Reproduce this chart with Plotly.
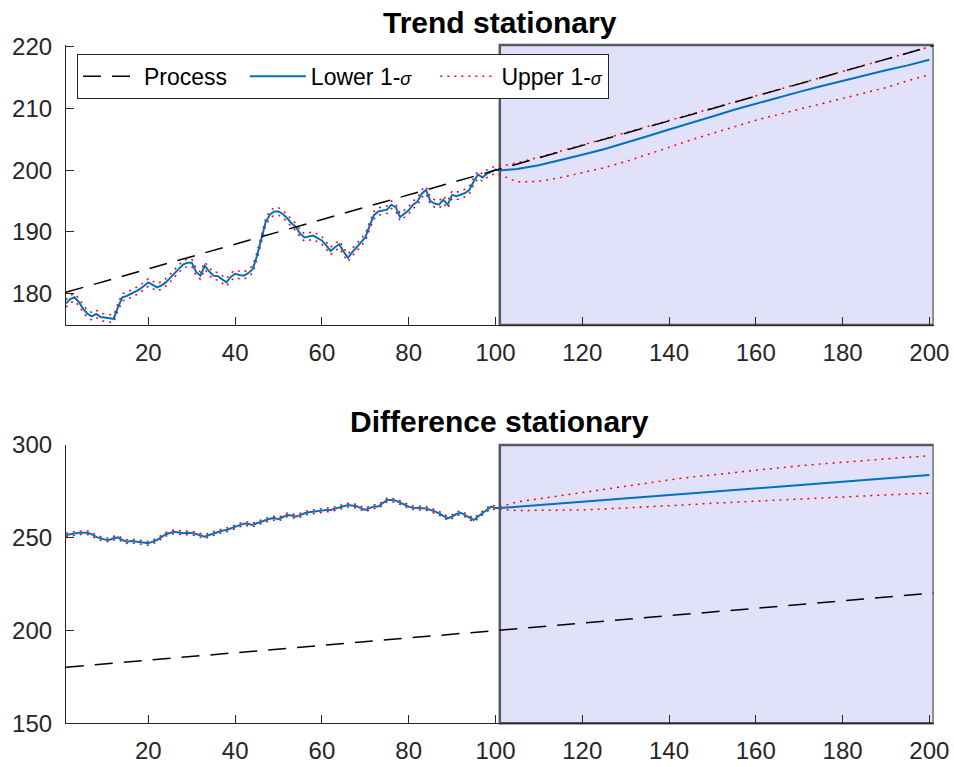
import plotly.graph_objects as go

# ---------------- data ----------------
t_hist = list(range(1, 101))
t_fc = [101, 105, 110, 115, 120, 125, 130, 135, 140, 145, 150,
        155, 160, 165, 170, 175, 180, 185, 190, 195, 200]
process_t = [1, 201]
process_y = [180.2, 220.2]

ts_hist = [178.4, 179.1, 179.4, 178.6, 177.5, 176.7, 176.3, 176.7, 176.2, 176.1,
           176.0, 175.9, 177.8, 179.4, 179.6, 179.9, 180.3, 180.7, 181.3, 181.8,
           181.4, 181.0, 181.3, 181.8, 182.5, 183.3, 184.0, 184.7, 185.0, 185.0,
           183.5, 182.9, 184.5, 183.6, 182.9, 182.8, 182.3, 181.8, 182.7, 183.2,
           183.0, 182.9, 183.3, 183.9, 186.0, 188.7, 191.5, 192.8, 193.3, 193.3,
           192.9, 192.2, 191.4, 190.8, 189.7, 189.1, 189.3, 189.4, 189.0, 188.6,
           187.8, 186.9, 187.5, 188.0, 186.8, 185.8, 186.7, 187.5, 188.3, 189.1,
           191.0, 192.7, 193.3, 193.4, 193.6, 194.4, 194.0, 192.4, 193.0, 193.5,
           194.4, 194.9, 196.2, 196.8, 195.0, 194.6, 194.4, 195.2, 194.4, 196.0,
           195.8, 196.0, 196.3, 196.8, 198.2, 199.3, 198.8, 199.4, 199.7, 200.1]
ts_hist_band = 0.6
ts_fc_mid = [199.95, 200.2, 200.8, 201.6, 202.5, 203.4, 204.4, 205.5, 206.6, 207.6, 208.7,
             209.8, 210.8, 211.8, 212.7, 213.6, 214.5, 215.3, 216.2, 217.0, 217.9]
ts_fc_upper = [200.6, 201.2, 202.1, 203.1, 204.0, 205.0, 206.0, 207.0, 208.0, 209.0, 210.0,
               211.0, 212.0, 213.0, 214.0, 215.0, 216.0, 217.0, 218.0, 219.0, 220.0]
ts_fc_lower = [199.3, 198.1, 198.2, 198.8, 199.6, 200.4, 201.4, 202.5, 203.7, 204.9, 206.0,
               207.1, 208.1, 209.0, 209.9, 210.8, 211.7, 212.6, 213.4, 214.5, 215.5]

ds_hist = [251.5, 252.0, 252.5, 252.7, 252.7, 252.7, 251.8, 250.5, 249.7, 249.0,
           248.8, 249.8, 250.2, 248.8, 247.9, 248.2, 248.0, 247.6, 247.2, 247.0,
           247.9, 248.8, 250.3, 251.9, 252.6, 253.2, 252.9, 252.5, 252.7, 252.6,
           252.0, 251.2, 250.6, 251.5, 252.4, 253.2, 253.8, 254.2, 255.1, 256.0,
           256.8, 257.6, 257.5, 256.9, 257.8, 258.7, 259.3, 260.2, 260.6, 260.0,
           261.2, 262.3, 262.0, 261.4, 262.2, 263.2, 263.7, 264.1, 264.6, 265.0,
           265.0, 265.0, 265.8, 266.5, 267.0, 267.6, 267.5, 267.0, 266.0, 265.0,
           266.0, 266.8, 266.8, 268.5, 270.4, 270.3, 270.0, 269.0, 267.8, 266.8,
           266.2, 265.9, 265.9, 265.8, 265.1, 264.2, 263.2, 261.8, 260.5, 261.4,
           262.8, 263.5, 262.3, 260.8, 259.6, 261.5, 263.2, 265.3, 266.8, 266.0]
ds_hist_band = 1.0
ds_fc_mid = [266.0, 266.7, 267.6, 268.5, 269.4, 270.3, 271.2, 272.1, 273.0, 273.9, 274.8,
             275.7, 276.6, 277.5, 278.4, 279.3, 280.2, 281.1, 282.0, 282.9, 283.8]
ds_fc_upper = [266.7, 269.3, 271.0, 273.0, 274.7, 276.5, 278.1, 279.7, 281.2, 282.7, 284.0,
               285.3, 286.5, 287.7, 288.8, 289.8, 290.8, 291.7, 292.6, 293.4, 294.2]
ds_fc_lower = [265.3, 264.7, 264.7, 264.8, 265.0, 265.5, 266.0, 266.7, 267.3, 267.9, 268.6,
               269.2, 269.8, 270.5, 271.0, 271.6, 272.1, 272.6, 273.1, 273.6, 274.0]

x_ticks = [20, 40, 60, 80, 100, 120, 140, 160, 180, 200]
y1_ticks = [180, 190, 200, 210, 220]
y2_ticks = [150, 200, 250, 300]

legend_names = ["Process",
                "Lower 1-<i><span style='font-size:18px'>σ</span></i>",
                "Upper 1-<i><span style='font-size:18px'>σ</span></i>"]

# ---------------- styles ----------------
FONT = "Liberation Sans, Arial, Helvetica, sans-serif"
AX = "#262626"
BLUE = "#0072BD"
RED = "#FF0000"
DASH = "18px,11px"
DOT = "2px,5px"
NB = "\u00a0"

fig = go.Figure()


def add_panel(fig, xa, ya, hist, band, mid, up, lo):
    hist_up = [v + band for v in hist]
    hist_lo = [v - band for v in hist]
    fig.add_trace(go.Scatter(x=t_hist + t_fc, y=hist_lo + lo, mode="lines",
                             line=dict(color=RED, width=1.5, dash=DOT),
                             xaxis=xa, yaxis=ya, showlegend=False, hoverinfo="skip"))
    fig.add_trace(go.Scatter(x=t_hist + t_fc, y=hist_up + up, mode="lines",
                             line=dict(color=RED, width=1.5, dash=DOT),
                             xaxis=xa, yaxis=ya, showlegend=False, hoverinfo="skip"))
    fig.add_trace(go.Scatter(x=t_hist + t_fc, y=hist + mid, mode="lines",
                             line=dict(color=BLUE, width=2),
                             xaxis=xa, yaxis=ya, showlegend=False, hoverinfo="skip"))
    fig.add_trace(go.Scatter(x=process_t, y=process_y, mode="lines",
                             line=dict(color="black", width=1.5, dash=DASH),
                             xaxis=xa, yaxis=ya, showlegend=False, hoverinfo="skip"))


add_panel(fig, "x", "y", ts_hist, ts_hist_band, ts_fc_mid, ts_fc_upper, ts_fc_lower)
add_panel(fig, "x2", "y2", ds_hist, ds_hist_band, ds_fc_mid, ds_fc_upper, ds_fc_lower)

# legend-only entries (order: Process, Lower, Upper)
legend_styles = [dict(color="black", width=1.5, dash=DASH),
                 dict(color=BLUE, width=2),
                 dict(color=RED, width=1.5, dash=DOT)]
legend_pad = [NB * 2, NB * 3, ""]
for name, ln, pad in zip(legend_names, legend_styles, legend_pad):
    fig.add_trace(go.Scatter(x=[None], y=[None], mode="lines", name=name + pad, line=ln,
                             xaxis="x", yaxis="y", showlegend=True))

XDOM = [0.0691, 0.9787]
axis_common = dict(showline=True, linecolor=AX, linewidth=1, ticks="inside", ticklen=8,
                   tickcolor=AX, tickwidth=1, showgrid=False, zeroline=False, mirror=False,
                   automargin=False,
                   tickfont=dict(family=FONT, size=24, color=AX))

fig.update_layout(
    width=954, height=767,
    margin=dict(l=0, r=0, t=0, b=0, autoexpand=False),
    paper_bgcolor="white", plot_bgcolor="white",
    xaxis=dict(domain=XDOM, range=[1, 201], tickvals=x_ticks, anchor="y",
               ticklabelstandoff=6, **axis_common),
    yaxis=dict(domain=[0.5763, 0.9413], range=[174.9, 220.3], tickvals=y1_ticks, anchor="x",
               ticklabelstandoff=8, **axis_common),
    xaxis2=dict(domain=XDOM, range=[1, 201], tickvals=x_ticks, anchor="y2",
                ticklabelstandoff=6, **axis_common),
    yaxis2=dict(domain=[0.0570, 0.4198], range=[150, 300], tickvals=y2_ticks, anchor="x2",
                ticklabelstandoff=8, **axis_common),
    showlegend=True,
    legend=dict(orientation="h", x=0.0807, y=0.93, xanchor="left", yanchor="top",
                bgcolor="white", bordercolor=AX, borderwidth=1,
                font=dict(family=FONT, size=23, color="black"),
                itemwidth=56, tracegroupgap=0),
    shapes=[
        dict(type="rect", xref="x", yref="y domain", x0=101, x1=201, y0=0, y1=1,
             fillcolor="rgb(225,225,250)", line=dict(color="#58585f", width=2.5), layer="below"),
        dict(type="rect", xref="x2", yref="y2 domain", x0=101, x1=201, y0=0, y1=1,
             fillcolor="rgb(225,225,250)", line=dict(color="#58585f", width=2.5), layer="below"),
    ],
    annotations=[
        dict(text="<b>Trend stationary</b>", x=0.524, y=0.971, xref="paper", yref="paper",
             showarrow=False, xanchor="center", yanchor="middle",
             font=dict(family=FONT, size=30, color="black")),
        dict(text="<b>Difference stationary</b>", x=0.524, y=0.451, xref="paper", yref="paper",
             showarrow=False, xanchor="center", yanchor="middle",
             font=dict(family=FONT, size=30, color="black")),
    ],
)

fig.write_html("out.html", config={"displayModeBar": False},
               post_script="document.body.style.margin='0';document.body.style.overflow='hidden';")
